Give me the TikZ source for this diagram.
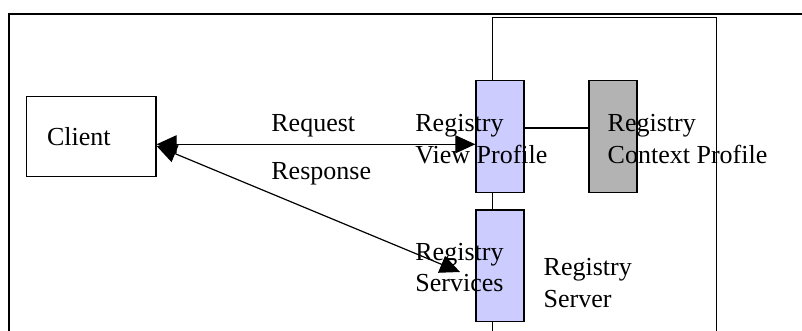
\documentclass[tikz,border=0pt]{standalone}
\usepackage{fontspec}
\setmainfont{Liberation Serif}
\usetikzlibrary{arrows.meta, positioning}
\definecolor{lavender}{RGB}{204,204,255}
\definecolor{ctxgray}{RGB}{179,179,179}

\begin{document}
\begin{tikzpicture}[x=0.5pt,y=-0.5pt,
    box/.style={draw,line width=0.7pt,inner sep=0pt,minimum width=24pt,minimum height=55.8pt},
    lbl/.style={anchor=base west,inner sep=0pt,align=left,font=\fontsize{13}{15.8}\selectfont},
    link/.style={line width=0.6pt},
    flow/.style={link,{Triangle[length=10pt,width=9pt]}-{Triangle[length=10pt,width=9pt]}}]
  \useasboundingbox (0,0) rectangle (802,331);
  \draw[line width=1pt] (9,14) rectangle (830,360);
  % server and its parts
  \node[draw,line width=0.5pt,anchor=north west,inner sep=0pt,minimum width=112pt,minimum height=170pt] (server) at (492,16.7) {};
  \node[box,fill=lavender] (view) at (500,136.5) {};
  \node[box,fill=ctxgray] (context) [right=31.85pt of view] {};
  \node[box,fill=lavender] (services) [below=8.2pt of view] {};
  \node[draw,line width=0.6pt,inner xsep=10.2pt,inner ysep=0pt,text width=44.3pt,align=left,minimum height=40pt,
        font=\fontsize{13}{15.8}\selectfont] (client) at (91.3,136.7) {Client};
  % labels (base = last line)
  \node[lbl] (reqlbl) at (271,131.5) {Request};
  \node[lbl] (resplbl) at (271,179.5) {Response};
  \node[lbl] (viewlbl) at (415,163.3) {Registry\\View Profile};
  \node[lbl] (contextlbl) at (607.3,163.3) {Registry\\Context Profile};
  \node[lbl] (serviceslbl) at (415,291.7) {Registry\\Services};
  \node[lbl] (serverlbl) at (543.3,307.3) {Registry\\Server};
  % connectors
  \coordinate (svcin) at (460,272);
  \draw[link] (view.east |- 0,128) -- (context.west |- 0,128);
  \draw[flow] (client.east |- 0,144.3) -- (view.west |- 0,144.3);
  \draw[flow] (client.east |- 0,146) -- (svcin);
\end{tikzpicture}
\end{document}
